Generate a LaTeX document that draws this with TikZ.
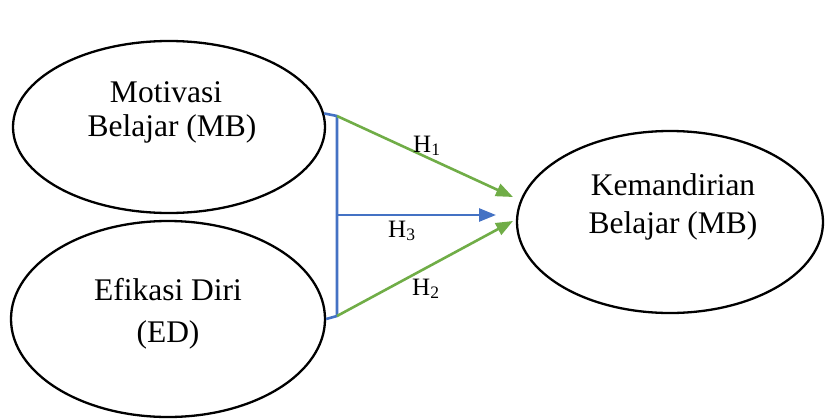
\documentclass[tikz,border=0pt]{standalone}
\usepackage{fontspec}
\setmainfont{Liberation Serif}
\usetikzlibrary{shapes.geometric,arrows.meta}
\definecolor{hgreen}{HTML}{70AD47}
\definecolor{hblue}{HTML}{4472C4}
\begin{document}
\begin{tikzpicture}[x=1pt,y=-1pt,
  oval/.style={draw=black,line width=2.3pt,ellipse,inner sep=0pt},
  txt/.style={anchor=base,inner sep=0pt,font=\fontsize{31.5}{36}\selectfont},
  hlab/.style={anchor=base west,inner sep=0pt,font=\fontsize{25}{28}\selectfont},
  garrow/.style={draw=hgreen,line width=2.6pt,-{Triangle[length=17pt,width=13pt]}},
  barrow/.style={draw=hblue,line width=2.6pt,-{Triangle[length=17pt,width=13pt]}},
  bline/.style={draw=hblue,line width=2.6pt,line join=round}]
\useasboundingbox (0,0) rectangle (825,418);
% ellipses
\node[oval,minimum width=312pt,minimum height=172pt] (mb) at (169,127) {};
\node[oval,minimum width=314pt,minimum height=196pt] (ed) at (168,319) {};
\node[oval,minimum width=306pt,minimum height=182pt] (kb) at (670,222) {};
% texts
\node[txt] (mb1) at (166,102) {Motivasi};
\node[txt] (mb2) at (172,136) {Belajar (MB)};
\node[txt] (ed1) at (168,300) {Efikasi Diri};
\node[txt] (ed2) at (168,342) {(ED)};
\node[txt] (kb1) at (673,195) {Kemandirian};
\node[txt] (kb2) at (673,233) {Belajar (MB)};
% bracket coordinates
\coordinate (bt) at (337,116);
\coordinate (bm) at (337,215);
\coordinate (bb) at (337,316);
\coordinate (t1) at (513,197);
\coordinate (t2) at (513,221);
\coordinate (t3) at (496,215);
% blue bracket
\draw[bline] (mb.5) -- (bt) -- (bb) -- (ed.east);
% arrows
\draw[garrow] (bt) -- (t1);
\draw[garrow] (bb) -- (t2);
\draw[barrow] (bm) -- (t3);
% labels
\node[hlab] (h1) at (413,152) {H\textsubscript{1}};
\node[hlab] (h3) at (388,237) {H\textsubscript{3}};
\node[hlab] (h2) at (412,295) {H\textsubscript{2}};
\end{tikzpicture}
\end{document}
